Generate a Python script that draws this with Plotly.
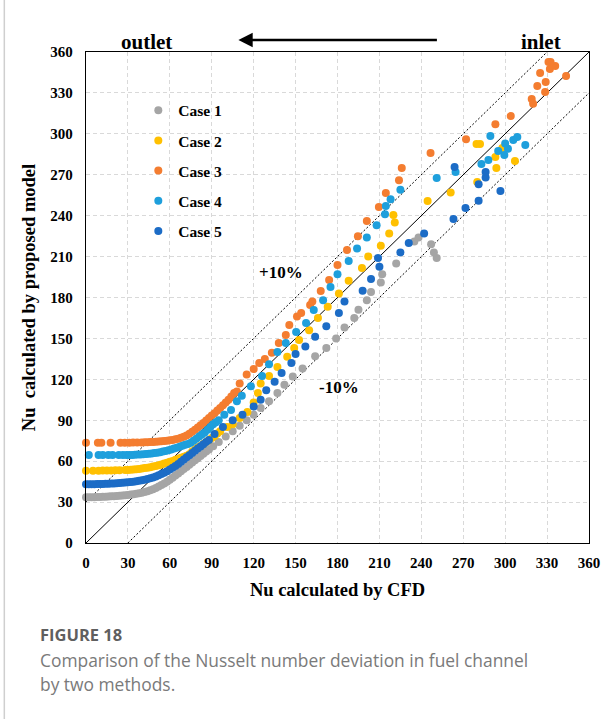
import plotly.graph_objects as go

# ---- Nusselt number pairs: CFD result (x) vs. proposed model (y) ----
case1_cfd = [0, 2, 4, 6, 8, 10, 12, 14, 16, 18, 20, 22, 24, 26, 28, 30, 32, 34, 36, 38, 40,
             42, 44, 46, 48, 50, 52, 54, 56, 58, 60, 62, 64, 66, 68, 70, 72, 74, 76, 78, 80,
             82, 84, 86, 88, 91, 95, 100, 105, 110, 115, 120, 125, 131, 137, 142, 148, 155,
             164, 172, 179, 185, 192, 195, 201, 204, 211, 212, 222, 235, 238, 247, 251, 249]
case1_model = [33.5, 33.5, 33.6, 33.6, 33.7, 33.8, 33.9, 34.0, 34.1, 34.2, 34.3, 34.5, 34.6,
               34.8, 35.0, 35.2, 35.5, 35.8, 36.1, 36.5, 36.9, 37.4, 38.0, 38.7, 39.5, 40.4,
               41.4, 42.5, 43.7, 45.0, 46.4, 47.9, 49.4, 51.0, 52.6, 54.2, 55.8, 57.4, 59.0,
               60.6, 62.2, 63.8, 65.4, 67.0, 68.6, 71, 74, 78, 82, 86, 90, 94, 99, 104, 110,
               116, 122, 128, 137, 143, 150, 158, 165, 171, 178, 184, 191, 197, 205, 221, 224,
               219, 209, 213]

case2_cfd = [0, 5, 9, 12, 15, 18, 21, 24, 28, 30, 32, 34, 36, 38, 40, 42, 44, 46, 48, 50, 52,
             54, 56, 58, 60, 62, 64, 66, 68, 70, 72, 74, 76, 78, 80, 82, 84, 86, 88, 90, 92, 94,
             96, 101, 105, 110, 115.5, 120, 123, 125, 131, 137, 144, 149, 152.5, 159.7, 166,
             173, 181, 188, 197.5, 202, 211, 217, 221, 220, 244.5, 261, 280, 293.7, 293, 307,
             298, 279.5, 282]
case2_model = [53.0, 53.0, 53.0, 53.1, 53.1, 53.2, 53.3, 53.4, 53.5, 53.6, 53.7, 53.9, 54.1,
               54.3, 54.6, 54.9, 55.2, 55.6, 56.0, 56.5, 57.0, 57.6, 58.2, 58.8, 59.5, 60.2,
               61.0, 61.7, 62.5, 63.2, 64.0, 65.0, 67.0, 68.5, 70.0, 71.2, 72.5, 74.0, 75.5,
               77.0, 78.5, 80.2, 82.0, 85, 87, 91.6, 96, 103, 110, 117, 122.4, 129, 136.6, 143,
               148.8, 156, 165, 173.3, 183, 192.3, 201.6, 210, 218, 227, 235, 240.5, 250.7, 257,
               264.7, 275, 283, 280, 289.6, 292.5, 292.5]

case3_cfd = [0, 8.5, 11, 17.6, 24.7, 27.8, 31, 33.7, 36.6, 39.7, 42, 44, 46, 48, 50, 52, 54,
             56, 58, 60, 62, 64, 66, 68, 70, 72, 74, 76, 78, 80, 82, 84, 86, 88, 90, 92, 94, 96,
             98, 100, 102, 104, 106, 108, 110, 115, 120, 124, 128, 133, 138, 143, 145.5, 151,
             154, 160.4, 162, 168, 174, 180, 186.8, 194.6, 201, 209.6, 214.6, 224, 226, 246.6,
             272, 293, 304, 319, 320, 328.6, 323, 329, 343.6, 325, 332, 335.8, 331, 332.5]
case3_model = [73.5, 73.5, 73.5, 73.5, 73.5, 73.5, 73.5, 73.6, 73.6, 73.7, 73.8, 73.9, 74.0,
               74.1, 74.2, 74.4, 74.6, 74.8, 75.0, 75.3, 75.6, 76.0, 76.5, 77.1, 77.9, 78.9,
               80.1, 81.5, 83.0, 84.6, 86.3, 88.0, 89.8, 91.6, 93.4, 95.2, 97.1, 99.0, 101.0,
               103.0, 105.0, 107.5, 110.0, 111, 117, 123.5, 127.6, 132, 135, 139.5, 146.6,
               152.5, 159.8, 166, 168.6, 174.5, 177, 184.8, 192.8, 203.8, 214.8, 225, 236,
               246.4, 256.6, 266, 275, 286, 296, 307, 313, 325.5, 322, 330.7, 335, 338, 342.4,
               344.6, 347.5, 349.8, 352.7, 352.7]

case4_cfd = [2, 9, 12, 16, 19, 23.5, 26.4, 29, 31, 33, 35, 37, 39, 41, 43, 45, 47, 49, 51, 53,
             55, 57, 59, 61, 63, 65, 67, 69, 71, 73, 75, 77, 79, 81, 83, 85, 87, 89, 91, 93, 95,
             99, 103.8, 108, 111.5, 118, 126, 131, 137, 143, 150.4, 157.5, 163, 169.7, 175, 180,
             188, 194, 201, 208, 214, 214.6, 218, 225, 251, 264.5, 283, 288, 299.4, 295, 302,
             314.4, 300, 305.8, 308.7, 289.4]
case4_model = [64.5, 64.5, 64.5, 64.5, 64.5, 64.5, 64.5, 64.5, 64.6, 64.6, 64.7, 64.8, 64.9,
               65.0, 65.2, 65.4, 65.6, 65.9, 66.2, 66.6, 67.0, 67.5, 68.0, 68.6, 69.2, 69.9,
               70.6, 71.3, 72.0, 72.5, 73.5, 75.0, 76.5, 78.0, 79.5, 81.0, 83.0, 85.0, 87.0,
               88.5, 90.0, 94, 97.5, 104, 108, 115, 122.5, 131, 140, 146.6, 154.7, 161.3, 170.8,
               178, 187.7, 197, 206.8, 216, 224, 233, 241, 247, 252, 259, 267.6, 272, 277.9,
               280.8, 284.5, 287.4, 289, 291.8, 293, 295.5, 297.7, 298.4]

case5_cfd = [0, 2, 4, 6, 8, 10, 12, 14, 16, 18, 20, 22, 24, 26, 28, 30, 32, 34, 36, 38, 40, 42,
             44, 46, 48, 50, 52, 54, 56, 58, 60, 62, 64, 66, 68, 70, 72, 74, 76, 78, 80, 82, 84,
             86, 88, 92, 98, 105, 112, 120, 125, 129, 135, 140, 147, 150, 157, 164, 172, 181,
             185, 198, 204, 210, 209, 225, 231, 242, 263, 271.6, 281, 296.6, 281, 286, 286,
             263.8]
case5_model = [43.0, 43.0, 43.1, 43.1, 43.2, 43.2, 43.3, 43.4, 43.5, 43.6, 43.7, 43.8, 44.0,
               44.1, 44.3, 44.5, 44.7, 45.0, 45.3, 45.6, 46.0, 46.4, 46.9, 47.5, 48.1, 48.8,
               49.6, 50.5, 51.5, 52.6, 53.8, 55.1, 56.5, 58.0, 59.6, 61.2, 62.8, 64.4, 66.0,
               67.6, 69.2, 70.8, 72.4, 74.0, 75.6, 80, 85, 90, 94, 100, 105, 112, 118.3, 124.6,
               132, 138.6, 144, 151.3, 159, 168.6, 177, 185, 193.6, 202.6, 209, 213, 220, 227,
               237.5, 245.6, 251, 258, 263, 268, 272, 275.7]

case_names = ["Case 1", "Case 2", "Case 3", "Case 4", "Case 5"]
case_colors = ["#A5A5A5", "#FFC000", "#F47D30", "#1E9FDC", "#1C6CC6"]
cfd_series = [case1_cfd, case2_cfd, case3_cfd, case4_cfd, case5_cfd]
model_series = [case1_model, case2_model, case3_model, case4_model, case5_model]

# reference lines: parity and the two deviation bounds
axis_span = [0, 360]
band = 30
tick_values = [0, 30, 60, 90, 120, 150, 180, 210, 240, 270, 300, 330, 360]

serif = "Liberation Serif"
fig = go.Figure()

fig.add_trace(go.Scatter(x=axis_span, y=axis_span, mode="lines",
                         line=dict(color="black", width=1), showlegend=False,
                         hoverinfo="skip"))
fig.add_trace(go.Scatter(x=[0, axis_span[1] - band], y=[band, axis_span[1]], mode="lines",
                         line=dict(color="black", width=1, dash="2px,2px"),
                         showlegend=False, hoverinfo="skip"))
fig.add_trace(go.Scatter(x=[band, axis_span[1]], y=[0, axis_span[1] - band], mode="lines",
                         line=dict(color="black", width=1, dash="2px,2px"),
                         showlegend=False, hoverinfo="skip"))

for name, color, xs, ys in zip(case_names, case_colors, cfd_series, model_series):
    fig.add_trace(go.Scatter(
        x=xs, y=ys, mode="markers", name=name, legendgroup=name,
        marker=dict(color=color, size=8, line=dict(width=0)),
        cliponaxis=False,
    ))

axis_common = dict(
    range=[0, 360], tickvals=tick_values, ticks="",
    showline=True, linecolor="black", linewidth=1.3, mirror=True,
    showgrid=True, gridcolor="#d9d9d9", gridwidth=1, griddash="4px,3px",
    zeroline=False,
    tickfont=dict(family=serif, size=15, color="black", weight="bold"),
)

fig.update_xaxes(**axis_common, ticklabelstandoff=6,
                 title=dict(text="Nu calculated by CFD", standoff=12,
                            font=dict(family=serif, size=18.5, color="black", weight="bold")))
fig.update_yaxes(**axis_common, ticklabelstandoff=9,
                 title=dict(text="Nu  calculated by proposed model", standoff=9,
                            font=dict(family=serif, size=18.5, color="black", weight="bold")))

annotations = [
    dict(text="outlet", x=0.0663, y=1.0204, xref="paper", yref="paper", showarrow=False,
         yanchor="middle",
         font=dict(family=serif, size=21, color="black", weight="bold")),
    dict(text="inlet", x=0.9485, y=1.0204, xref="paper", yref="paper", showarrow=False,
         yanchor="middle",
         font=dict(family=serif, size=21, color="black", weight="bold")),
    dict(text="", x=0.303, y=1.0244, xref="paper", yref="paper", showarrow=True,
         ax=200, ay=0, arrowhead=2, arrowsize=1.1, arrowwidth=2.6, arrowcolor="black"),
    dict(text="+10%", x=139.7, y=198, xref="x", yref="y", showarrow=False,
         font=dict(family=serif, size=17, color="black", weight="bold")),
    dict(text="-10%", x=181, y=114, xref="x", yref="y", showarrow=False,
         font=dict(family=serif, size=17, color="black", weight="bold")),
    dict(text="FIGURE 18", x=-0.095, y=-0.187, xref="paper", yref="paper",
         xanchor="left", yanchor="middle", showarrow=False,
         font=dict(family="Open Sans", size=16.5, color="#5f5f5f", weight="bold")),
    dict(text="Comparison of the Nusselt number deviation in fuel channel",
         x=-0.095, y=-0.238, xref="paper", yref="paper",
         xanchor="left", yanchor="middle", showarrow=False,
         font=dict(family="Open Sans", size=17.4, color="#7a7a7a")),
    dict(text="by two methods.", x=-0.095, y=-0.287, xref="paper", yref="paper",
         xanchor="left", yanchor="middle", showarrow=False,
         font=dict(family="Open Sans", size=17.4, color="#7a7a7a")),
]

fig.update_layout(
    width=612, height=719,
    margin=dict(l=86, r=21, t=52, b=176),
    paper_bgcolor="white", plot_bgcolor="white",
    annotations=annotations,
    shapes=[dict(type="line", xref="paper", yref="paper", x0=-0.1624, x1=-0.1624,
                 y0=-0.36, y1=1.11, line=dict(color="#cfcfcf", width=1.5))],
    legend=dict(x=0.104, y=0.915, xanchor="left", yanchor="top",
                bgcolor="rgba(0,0,0,0)", tracegroupgap=7, itemwidth=30,
                font=dict(family=serif, size=15.5, color="black", weight="bold")),
    showlegend=True,
)

fig.write_html("out.html")
